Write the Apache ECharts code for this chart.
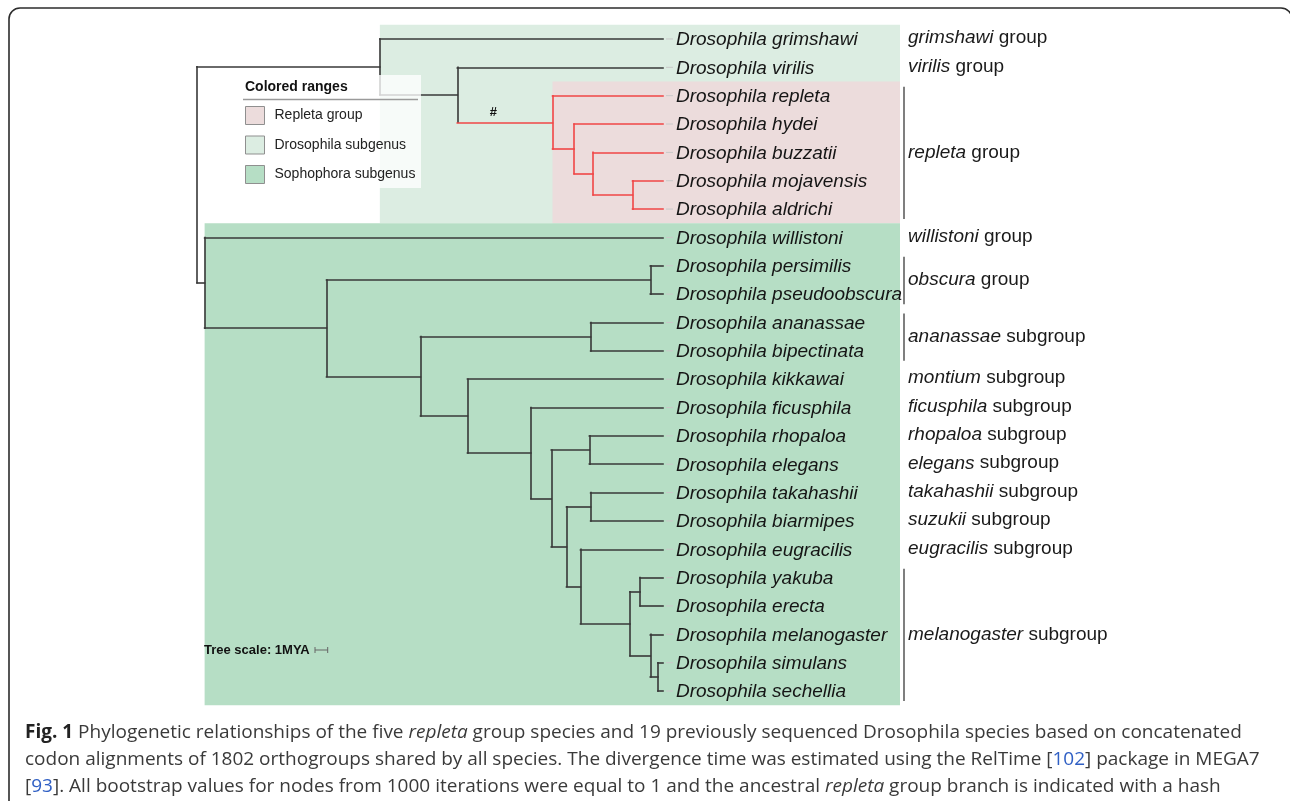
<!DOCTYPE html>
<html>
<head>
<meta charset="utf-8">
<script src="https://cdn.jsdelivr.net/npm/echarts@6/dist/echarts.min.js"></script>
<style>
  html, body { margin: 0; padding: 0; background: #ffffff; }
  #chart { width: 1290px; height: 801px; }
</style>
</head>
<body>
<div id="chart"></div>
<script>
// Leaf taxa, top to bottom
const species = [
  'Drosophila grimshawi', 'Drosophila virilis', 'Drosophila repleta', 'Drosophila hydei',
  'Drosophila buzzatii', 'Drosophila mojavensis', 'Drosophila aldrichi', 'Drosophila willistoni',
  'Drosophila persimilis', 'Drosophila pseudoobscura', 'Drosophila ananassae', 'Drosophila bipectinata',
  'Drosophila kikkawai', 'Drosophila ficusphila', 'Drosophila rhopaloa', 'Drosophila elegans',
  'Drosophila takahashii', 'Drosophila biarmipes', 'Drosophila eugracilis', 'Drosophila yakuba',
  'Drosophila erecta', 'Drosophila melanogaster', 'Drosophila simulans', 'Drosophila sechellia'
];

// Internal nodes: name, divergence age (MYA) and children (leaf index or node name)
const nodeNames = ['root', 'drosophila', 'virRep', 'repleta', 'repB', 'repC', 'repD',
  'sophophora', 'nodeA', 'obscura', 'nodeB', 'ananassae', 'nodeC', 'nodeD', 'nodeE',
  'rhopEleg', 'nodeF', 'takBiar', 'nodeG', 'melSub', 'yakEre', 'nodeI', 'simSech'];
const nodeAges = [36.7, 22.3, 16.2, 8.7, 7.0, 5.5, 2.4,
  36.1, 26.5, 1.0, 19.1, 5.7, 15.4, 10.4, 8.8,
  5.8, 7.6, 5.7, 6.5, 2.6, 1.8, 1.0, 0.4];
const nodeChildren = [
  ['drosophila', 'sophophora'], [0, 'virRep'], [1, 'repleta'], [2, 'repB'], [3, 'repC'], [4, 'repD'], [5, 6],
  [7, 'nodeA'], ['obscura', 'nodeB'], [8, 9], ['ananassae', 'nodeC'], [10, 11], [12, 'nodeD'], [13, 'nodeE'],
  ['rhopEleg', 'nodeF'], [14, 15], ['takBiar', 'nodeG'], [16, 17], [18, 'melSub'], ['yakEre', 'nodeI'],
  [19, 20], [21, 'simSech'], [22, 23]
];
const highlightClade = 'repleta';
const markNodes = ['repleta'];
const markTexts = ['#'];

// Colored ranges
const rangeNames = ['Drosophila subgenus', 'Repleta group', 'Sophophora subgenus'];
const rangeNodes = ['drosophila', 'repleta', 'sophophora'];
const rangeColors = ['#dcede2', '#ecdcdc', '#b6dec5'];
const legendOrder = ['Repleta group', 'Drosophila subgenus', 'Sophophora subgenus'];

// Group annotations on the right
const groupItalic = ['grimshawi', 'virilis', 'repleta', 'willistoni', 'obscura', 'ananassae', 'montium',
  'ficusphila', 'rhopaloa', 'elegans', 'takahashii', 'suzukii', 'eugracilis', 'melanogaster'];
const groupRank = ['group', 'group', 'group', 'group', 'group', 'subgroup', 'subgroup',
  'subgroup', 'subgroup', 'subgroup', 'subgroup', 'subgroup', 'subgroup', 'subgroup'];
const groupFirst = [0, 1, 2, 7, 8, 10, 12, 13, 14, 15, 16, 17, 18, 19];
const groupLast = [0, 1, 6, 7, 9, 11, 12, 13, 14, 15, 16, 17, 18, 23];

const scaleLength = 1; // MYA
const scaleLabel = 'Tree scale: 1MYA';

const captionLines = [
  '{b|Fig. 1} Phylogenetic relationships of the five {i|repleta} group species and 19 previously sequenced Drosophila species based on concatenated',
  'codon alignments of 1802 orthogroups shared by all species. The divergence time was estimated using the RelTime [{l|102}] package in MEGA7',
  '[{l|93}]. All bootstrap values for nodes from 1000 iterations were equal to 1 and the ancestral {i|repleta} group branch is indicated with a hash'
];

// ---- tree layout helpers ----
const nodeIndex = {};
nodeNames.forEach((n, i) => { nodeIndex[n] = i; });
const yCache = {};
function childAge(c) { return typeof c === 'number' ? 0 : nodeAges[nodeIndex[c]]; }
function childY(c) {
  if (typeof c === 'number') return c;
  if (yCache[c] !== undefined) return yCache[c];
  const ch = nodeChildren[nodeIndex[c]];
  const y = (childY(ch[0]) + childY(ch[ch.length - 1])) / 2;
  yCache[c] = y;
  return y;
}
function leavesOf(c) {
  if (typeof c === 'number') return [c];
  return nodeChildren[nodeIndex[c]].reduce((a, k) => a.concat(leavesOf(k)), []);
}
function inClade(c, clade) {
  let found = false;
  (function walk(n) {
    if (n === c) found = true;
    if (typeof n !== 'number') nodeChildren[nodeIndex[n]].forEach(walk);
  })(clade);
  return found;
}

const BLACK = '#383838';
const RED = '#f04646';
const branchData = [];
nodeNames.forEach((n, i) => {
  const a = nodeAges[i];
  const ch = nodeChildren[i];
  branchData.push({
    coords: [[a, childY(ch[0])], [a, childY(ch[ch.length - 1])]],
    lineStyle: { color: inClade(n, highlightClade) ? RED : BLACK }
  });
  ch.forEach(c => {
    const y = childY(c);
    branchData.push({
      coords: [[a, y], [childAge(c), y]],
      lineStyle: { color: inClade(c, highlightClade) ? RED : BLACK }
    });
  });
});

const parentOf = {};
nodeNames.forEach((n, i) => nodeChildren[i].forEach(c => { if (typeof c !== 'number') parentOf[c] = n; }));
const markData = markNodes.map((n, k) => {
  const pa = nodeAges[nodeIndex[parentOf[n]]];
  const ca = nodeAges[nodeIndex[n]];
  return [pa + (ca - pa) * 0.38, childY(n), k];
});

const rangeData = rangeNodes.map((n, k) => {
  const lv = leavesOf(n);
  return [nodeAges[nodeIndex[n]], Math.min.apply(null, lv), Math.max.apply(null, lv), k];
});

const LABEL_GAP = 13;
const GROUP_X = 245;
const RANGE_END = 237;

const chart = echarts.init(document.getElementById('chart'), null, { renderer: 'canvas' });

const series = [];
rangeNames.forEach((name, k) => {
  series.push({
    name: name,
    type: 'custom',
    coordinateSystem: 'cartesian2d',
    z: 1,
    silent: true,
    itemStyle: { color: rangeColors[k] },
    data: [rangeData[k]],
    renderItem: function (params, api) {
      const x0 = api.coord([api.value(0), 0])[0];
      const x1 = api.coord([0, 0])[0] + RANGE_END;
      const y0 = api.coord([0, api.value(1) - 0.5])[1];
      const y1 = api.coord([0, api.value(2) + 0.5])[1];
      return { type: 'rect', shape: { x: x0, y: y0, width: x1 - x0, height: y1 - y0 }, style: { fill: rangeColors[k] } };
    }
  });
});

series.push({
  name: 'branches',
  type: 'lines',
  coordinateSystem: 'cartesian2d',
  z: 3,
  clip: false,
  silent: true,
  lineStyle: { width: 1.6, cap: 'square', opacity: 1 },
  data: branchData
});

series.push({
  name: 'marks',
  type: 'custom',
  coordinateSystem: 'cartesian2d',
  z: 3,
  silent: true,
  data: markData,
  renderItem: function (params, api) {
    const p = api.coord([api.value(0), api.value(1)]);
    return { type: 'text', x: p[0], y: p[1] - 10, style: { text: markTexts[api.value(2)], font: 'bold 13px "Liberation Sans"', fill: '#111', align: 'center', verticalAlign: 'middle' } };
  }
});

series.push({
  name: 'species',
  type: 'custom',
  coordinateSystem: 'cartesian2d',
  z: 3,
  silent: true,
  data: species.map((s, i) => [0, i]),
  renderItem: function (params, api) {
    const i = api.value(1);
    const p = api.coord([0, i]);
    return {
      type: 'group',
      children: [
        { type: 'line', shape: { x1: p[0] + 3, y1: p[1], x2: p[0] + 10, y2: p[1] }, style: { stroke: '#c9c9c9', lineWidth: 1 } },
        { type: 'text', x: p[0] + LABEL_GAP, y: p[1] + 1, style: { text: species[i], font: 'italic 19px "Liberation Sans"', fill: '#151515', verticalAlign: 'middle' } }
      ]
    };
  }
});

series.push({
  name: 'groups',
  type: 'custom',
  coordinateSystem: 'cartesian2d',
  z: 3,
  silent: true,
  data: groupItalic.map((g, k) => [0, groupFirst[k], groupLast[k], k]),
  renderItem: function (params, api) {
    const k = api.value(3);
    const tip = api.coord([0, api.value(1)]);
    const yA = tip[1];
    const yB = api.coord([0, api.value(2)])[1];
    const children = [];
    let ty = yA - 1;
    if (api.value(2) > api.value(1)) {
      children.push({ type: 'line', shape: { x1: tip[0] + GROUP_X - 4, y1: yA - 9, x2: tip[0] + GROUP_X - 4, y2: yB + 10 }, style: { stroke: '#555', lineWidth: 1.5 } });
      ty = (yA + yB) / 2;
    }
    children.push({
      type: 'text', x: tip[0] + GROUP_X, y: ty,
      style: {
        text: '{i|' + groupItalic[k] + '} ' + groupRank[k],
        font: '19px "Liberation Sans"', fill: '#1a1a1a', verticalAlign: 'middle',
        rich: { i: { font: 'italic 19px "Liberation Sans"', fill: '#1a1a1a' } }
      }
    });
    return { type: 'group', children: children };
  }
});

series.push({
  name: 'scale',
  type: 'custom',
  coordinateSystem: 'cartesian2d',
  z: 3,
  silent: true,
  data: [[scaleLength, 0]],
  renderItem: function (params, api) {
    const len = api.coord([0, 0])[0] - api.coord([api.value(0), 0])[0];
    const x0 = 315, y = 650;
    return {
      type: 'group',
      children: [
        { type: 'text', x: 204, y: y, style: { text: scaleLabel, font: 'bold 13px "Liberation Sans"', fill: '#111', verticalAlign: 'middle' } },
        { type: 'polyline', shape: { points: [[x0, y - 3], [x0, y + 3]] }, style: { stroke: '#666', lineWidth: 1 } },
        { type: 'polyline', shape: { points: [[x0, y], [x0 + len, y]] }, style: { stroke: '#666', lineWidth: 1 } },
        { type: 'polyline', shape: { points: [[x0 + len, y - 3], [x0 + len, y + 3]] }, style: { stroke: '#666', lineWidth: 1 } }
      ]
    };
  }
});

const graphics = [
  { type: 'rect', z: 0, shape: { x: 9, y: 8, width: 1283, height: 900, r: 11 }, style: { fill: 'none', stroke: '#2c2c2c', lineWidth: 1.6 } },
  { type: 'rect', z: 10, shape: { x: 240, y: 75, width: 181, height: 113 }, style: { fill: 'rgba(255,255,255,0.78)' } },
  { type: 'text', z: 11, x: 245, y: 87, style: { text: 'Colored ranges', font: 'bold 14px "Liberation Sans"', fill: '#111', verticalAlign: 'middle' } },
  { type: 'line', z: 11, shape: { x1: 243, y1: 99.5, x2: 418, y2: 99.5 }, style: { stroke: '#9a9a9a', lineWidth: 1.5 } }
];
const captionY = [733, 760, 787];
captionLines.forEach((t, k) => {
  graphics.push({
    type: 'text', z: 11, x: 25, y: captionY[k],
    style: {
      text: t, font: '19px "Open Sans"', fill: '#3a3a3a', verticalAlign: 'middle',
      rich: {
        b: { font: 'bold 19px "Open Sans"', fill: '#222' },
        i: { font: 'italic 19px "Open Sans"', fill: '#3a3a3a' },
        l: { font: '19px "Open Sans"', fill: '#2f5fc4' }
      }
    }
  });
});

chart.setOption({
  animation: false,
  backgroundColor: '#ffffff',
  grid: { left: 197, top: 24.8, width: 466, height: 680.4, containLabel: false },
  xAxis: { type: 'value', inverse: true, min: 0, max: nodeAges[0], show: false },
  yAxis: { type: 'value', inverse: true, min: -0.5, max: species.length - 0.5, show: false },
  legend: {
    orient: 'vertical', left: 245, top: 106, z: 12, padding: 0,
    icon: 'rect', itemWidth: 19, itemHeight: 18, itemGap: 10.5,
    selectedMode: false,
    textStyle: { fontSize: 14, lineHeight: 18, fontFamily: 'Liberation Sans', color: '#222', padding: [0, 0, 0, 5] },
    data: legendOrder.map(n => ({ name: n, itemStyle: { color: rangeColors[rangeNames.indexOf(n)], borderColor: '#8f8f8f', borderWidth: 1 } }))
  },
  graphic: { elements: graphics },
  series: series
});
</script>
</body>
</html>
